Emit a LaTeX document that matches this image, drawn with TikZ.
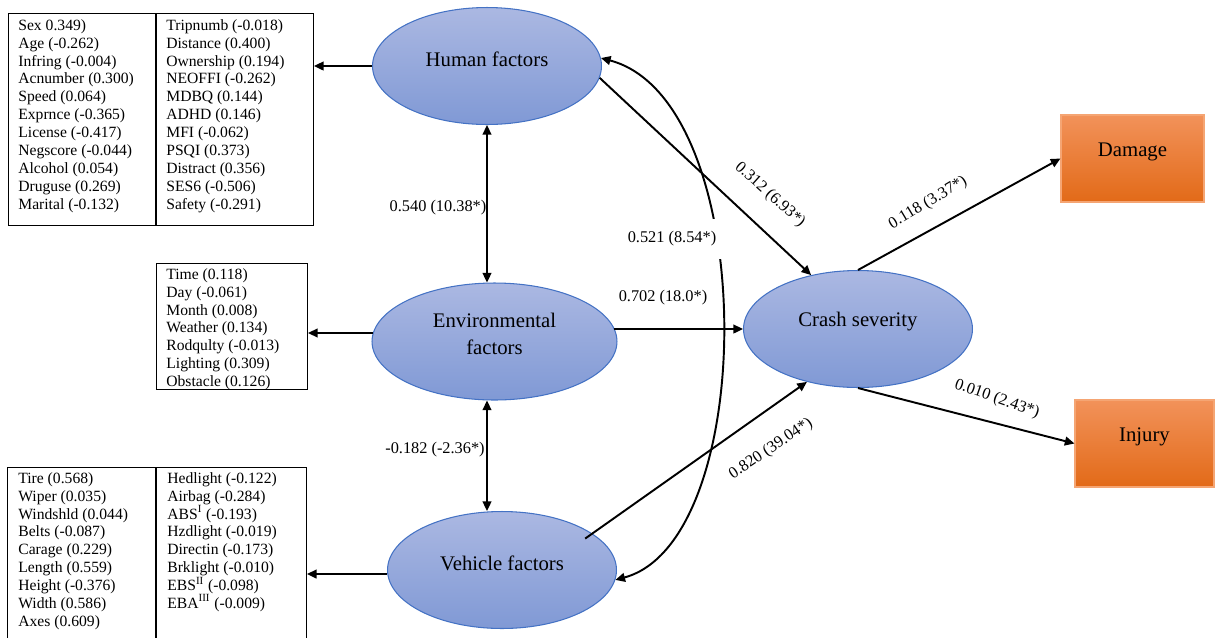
\documentclass[tikz,border=0pt]{standalone}
\usepackage{fontspec}
\setmainfont{Liberation Serif}
\usetikzlibrary{shapes.geometric,arrows.meta}
\definecolor{ellTop}{RGB}{171,184,226}
\definecolor{ellBot}{RGB}{128,153,213}
\definecolor{ellLine}{RGB}{68,114,196}
\definecolor{orTop}{RGB}{242,146,90}
\definecolor{orBot}{RGB}{226,106,24}
\definecolor{orLine}{RGB}{245,165,115}
\begin{document}
\begin{tikzpicture}[x=0.02cm,y=-0.02cm,
 lat/.style={ellipse, draw=ellLine, line width=0.6pt, top color=ellTop, bottom color=ellBot,
   minimum width=4.58cm, minimum height=2.34cm, inner sep=0pt},
 latlbl/.style={font=\fontsize{11.8}{15.3}\selectfont, align=center, yshift=4pt, inner sep=0pt},
 outbox/.style={rectangle, draw=orLine, line width=0.6pt, top color=orTop, bottom color=orBot,
   minimum height=1.74cm, inner sep=0pt},
 outlbl/.style={font=\fontsize{11.8}{14}\selectfont, yshift=3.7pt, inner sep=0pt},
 listbox/.style={rectangle, draw=black, line width=0.6pt, inner sep=0pt, anchor=north west},
 listtxt/.style={font=\fontsize{8.9}{10.2}\selectfont, align=left, anchor=north west, inner sep=0pt},
 arr/.style={line width=1.1pt, -{Triangle[length=5.5pt,width=5pt]}},
 dbl/.style={line width=1.1pt, {Triangle[length=5.5pt,width=5pt]}-{Triangle[length=5.5pt,width=5pt]}},
 coef/.style={font=\fontsize{9.3}{11}\selectfont, inner sep=1pt}
]
\useasboundingbox (0,0) rectangle (1215,637);

% list boxes
\node[listbox, minimum width=6.1cm, minimum height=4.24cm] (hbox) at (8,13) {};
\draw[line width=0.6pt] (156,13) -- (156,225);
\node[listtxt] (hcol1) at (18,19) {Sex 0.349)\\Age (-0.262)\\Infring (-0.004)\\Acnumber (0.300)\\Speed (0.064)\\Exprnce (-0.365)\\License (-0.417)\\Negscore (-0.044)\\Alcohol (0.054)\\Druguse (0.269)\\Marital (-0.132)};
\node[listtxt] (hcol2) at (166,19) {Tripnumb (-0.018)\\Distance (0.400)\\Ownership (0.194)\\NEOFFI (-0.262)\\MDBQ (0.144)\\ADHD (0.146)\\MFI (-0.062)\\PSQI (0.373)\\Distract (0.356)\\SES6 (-0.506)\\Safety (-0.291)};

\node[listbox, minimum width=3.02cm, minimum height=2.52cm] (mbox) at (156,263) {};
\node[listtxt] (mcol) at (166,268) {Time (0.118)\\Day (-0.061)\\Month (0.008)\\Weather (0.134)\\Rodqulty (-0.013)\\Lighting (0.309)\\Obstacle (0.126)};

\node[listbox, minimum width=5.98cm, minimum height=3.9cm] (bbox) at (7,467) {};
\draw[line width=0.6pt] (156,467) -- (156,660);
\node[listtxt] (bcol1) at (18,472) {Tire (0.568)\\Wiper (0.035)\\Windshld (0.044)\\Belts (-0.087)\\Carage (0.229)\\Length (0.559)\\Height (-0.376)\\Width (0.586)\\Axes (0.609)};
\node[listtxt] (bcol2) at (167,472) {Hedlight (-0.122)\\Airbag (-0.284)\\ABS\textsuperscript{I} (-0.193)\\Hzdlight (-0.019)\\Directin (-0.173)\\Brklight (-0.010)\\EBS\textsuperscript{II} (-0.098)\\EBA\textsuperscript{III} (-0.009)};

% latent variables
\node[lat, label={[latlbl]center:Human factors}] (human) at (487,66) {};
\node[lat, minimum width=4.9cm, label={[latlbl, yshift=0.5pt]center:Environmental\\factors}] (env) at (494.5,341.5) {};
\node[lat, label={[latlbl]center:Vehicle factors}] (vehicle) at (502,570) {};
\node[lat, label={[latlbl]center:Crash severity}] (crash) at (858,329) {};

% outcomes
\node[outbox, minimum width=2.86cm, label={[outlbl]center:Damage}] (damage) at (1132.5,158.5) {};
\node[outbox, minimum width=2.78cm, label={[outlbl]center:Injury}] (injury) at (1144.5,443.5) {};

% connectors
\draw[arr] (human.west) -- (human.west -| hbox.east);
\draw[arr] (env.176.5) -- (env.176.5 -| mbox.east);
\draw[arr] (vehicle.182.5) -- (vehicle.182.5 -| bbox.east);
\draw[dbl] (human.south) -- (human.south |- env.north);
\draw[dbl] (human.south |- env.south) -- (human.south |- vehicle.north);
\draw[arr] (human.-6) -- (crash.131);
\draw[arr] ([xshift=-2pt]env.east |- crash.west) -- (crash.west);
\draw[arr, shorten <=-5pt] (vehicle.22) -- (crash.226);
\draw[dbl] (human.4) .. controls (760,100) and (760,541) .. (vehicle.-5);
\draw[arr] (crash.north) -- (damage.west);
\draw[arr] (crash.south) -- (injury.west);

% coefficients
\node[coef] (c1) at (438,208) {0.540 (10.38*)};
\node[coef] (c2) at (435,450) {-0.182 (-2.36*)};
\node[coef] (c3) at (663,298) {0.702 (18.0*)};
\node[coef, fill=white, minimum height=23pt, inner xsep=3pt] (c4) at (672,239) {0.521 (8.54*)};
\node[coef, rotate=-42] (c5) at (770,195) {0.312 (6.93*)};
\node[coef, rotate=34] (c6) at (771,449) {0.820 (39.04*)};
\node[coef, rotate=31] (c7) at (928,203) {0.118 (3.37*)};
\node[coef, rotate=-19] (c8) at (997,399) {0.010 (2.43*)};
\end{tikzpicture}
\end{document}
